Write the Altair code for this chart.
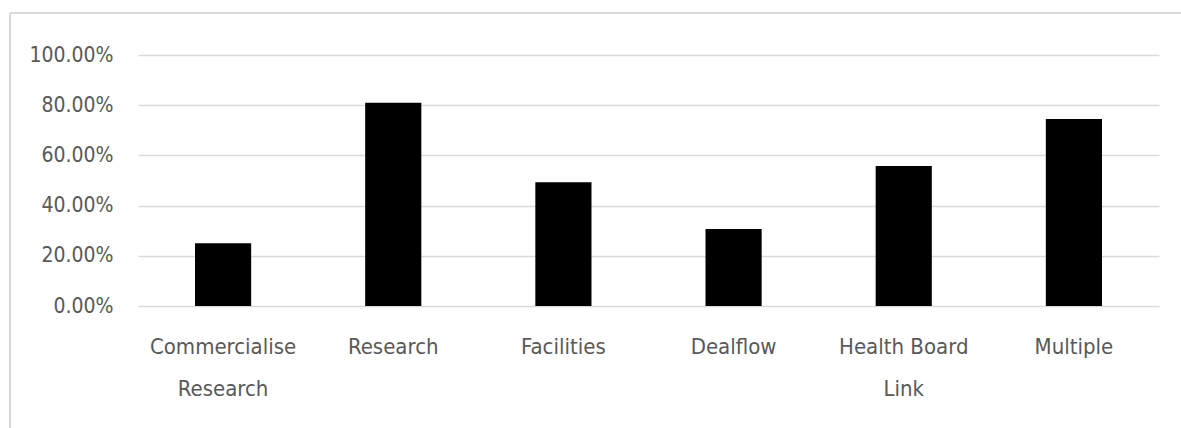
import altair as alt
import pandas as pd

categories = ["Commercialise\nResearch", "Research", "Facilities", "Dealflow", "Health Board\nLink", "Multiple"]
values = [0.25, 0.81, 0.493, 0.307, 0.558, 0.745]
y_ticks = [0.0, 0.2, 0.4, 0.6, 0.8, 1.0]

df = pd.DataFrame({"category": categories, "value": values})

FONT = "DejaVu Sans Condensed, DejaVu Sans, sans-serif"
TEXT = "#595959"
GRID = "#d9d9d9"

PAD_L, PAD_T = 138, 55
W, H = 1021, 251

bars = alt.Chart(df).mark_bar(color="black").encode(
    x=alt.X("category:N", sort=categories, title=None,
            scale=alt.Scale(paddingInner=0.67, paddingOuter=0.335),
            axis=alt.Axis(labelAngle=0, ticks=False, domain=False,
                          labelExpr="split(datum.label, '\\n')",
                          labelFont=FONT, labelFontSize=22, labelColor=TEXT,
                          labelLineHeight=42, labelPadding=30, labelBaseline="top")),
    y=alt.Y("value:Q", title=None,
            scale=alt.Scale(domain=[0, 1]),
            axis=alt.Axis(values=y_ticks, format=".2%", ticks=False, domain=False,
                          labelFont=FONT, labelFontSize=21, labelColor=TEXT,
                          labelPadding=25, gridColor=GRID, gridWidth=1.5)),
)

border = pd.DataFrame({"k": [0]})
top_line = alt.Chart(border).mark_rule(color=GRID, strokeWidth=2).encode(
    x=alt.value(10 - PAD_L), x2=alt.value(1181 - PAD_L), y=alt.value(13 - PAD_T)
)
left_line = alt.Chart(border).mark_rule(color=GRID, strokeWidth=2).encode(
    x=alt.value(10 - PAD_L), y=alt.value(13 - PAD_T), y2=alt.value(428 - PAD_T)
)

chart = alt.layer(bars, top_line, left_line).properties(
    width=W, height=H,
    autosize=alt.AutoSizeParams(type="none"),
    padding={"left": PAD_L, "top": PAD_T, "right": 1181 - PAD_L - W, "bottom": 428 - PAD_T - H},
    background="white",
).configure_view(stroke=None)

chart.save("out.html", embed_options={"renderer": "svg", "actions": False})
